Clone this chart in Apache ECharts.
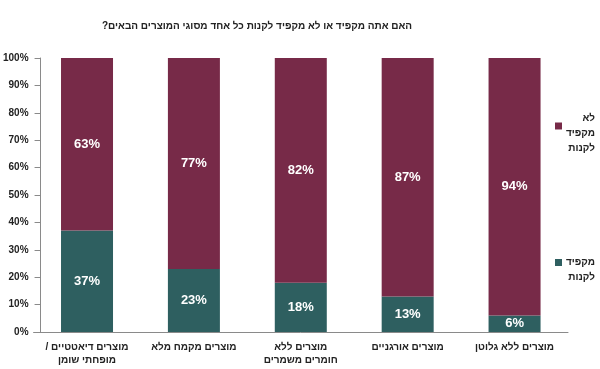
<!DOCTYPE html>
<html>
<head>
<meta charset="utf-8">
<script src="https://cdn.jsdelivr.net/npm/echarts@6/dist/echarts.min.js"></script>
<style>
html,body{margin:0;padding:0;background:#fff;}
#chart{width:600px;height:369px;}
</style>
</head>
<body>
<div id="chart" dir="rtl"></div>
<script>
var titleText = 'האם אתה מקפיד או לא מקפיד לקנות כל אחד מסוגי המוצרים הבאים?';
var categories = [
  'מוצרים דיאטטיים /\nמופחתי שומן',
  'מוצרים מקמח מלא',
  'מוצרים ללא\nחומרים משמרים',
  'מוצרים אורגניים',
  'מוצרים ללא גלוטן'
];
var seriesNames = ['מקפיד לקנות', 'לא מקפיד לקנות'];
var strict = [37, 23, 18, 13, 6];
var notStrict = [63, 77, 82, 87, 94];
var yTicks = [0, 10, 20, 30, 40, 50, 60, 70, 80, 90, 100];

var FONT = '"Liberation Sans", Arial, "DejaVu Sans", sans-serif';
var MAROON = '#772a48';
var TEAL = '#2e5f60';

var chart = echarts.init(document.getElementById('chart'), null, {renderer: 'canvas'});

function legendFmt(name) {
  var words = name.split(' ');
  var lines;
  if (words.length === 3) {
    lines = ['', '{r|' + words[0] + '}', '{r|' + words[1] + '}', '{r|' + words[2] + '}'];
  } else {
    lines = ['', '{r|' + words[0] + '}', '{r|' + words[1] + '}'];
  }
  return lines.join('\n');
}

var legendText = {
  fontFamily: FONT, fontSize: 10, fontWeight: 'bold', color: '#222', lineHeight: 15,
  rich: { r: { width: 28, align: 'right', fontFamily: FONT, fontSize: 10, fontWeight: 'bold', color: '#222', lineHeight: 15 } }
};

chart.setOption({
  animation: false,
  backgroundColor: '#fff',
  title: {
    text: titleText,
    left: 252,
    top: 16,
    textAlign: 'center',
    textStyle: { fontFamily: FONT, fontSize: 10, fontWeight: 'bold', color: '#222' }
  },
  legend: [
    {
      data: [seriesNames[1]], orient: 'vertical', right: 0, top: 91,
      itemWidth: 7, itemHeight: 7, icon: 'rect', selectedMode: false,
      formatter: legendFmt, textStyle: legendText
    },
    {
      data: [seriesNames[0]], orient: 'vertical', right: 0, top: 235,
      itemWidth: 7, itemHeight: 7, icon: 'rect', selectedMode: false,
      formatter: legendFmt, textStyle: legendText
    }
  ],
  grid: { left: 33, right: 32, top: 58, bottom: 37, containLabel: false },
  xAxis: {
    type: 'category',
    data: categories,
    axisLine: { lineStyle: { color: '#8a8a8a', width: 1 } },
    axisTick: { show: false },
    axisLabel: {
      interval: 0, margin: 9, fontFamily: FONT, fontSize: 10, fontWeight: 'bold',
      color: '#222', lineHeight: 13
    }
  },
  yAxis: {
    type: 'value',
    min: 0, max: 100, interval: 10,
    offset: -7,
    axisLine: { show: true, lineStyle: { color: '#8a8a8a', width: 1 } },
    axisTick: { show: true, length: 6, lineStyle: { color: '#8a8a8a' } },
    splitLine: { show: false },
    axisLabel: {
      margin: 12, fontFamily: FONT, fontSize: 10, fontWeight: 'bold', color: '#222',
      formatter: function (v) { return yTicks.indexOf(v) >= 0 ? v + '%' : ''; }
    }
  },
  series: [
    {
      name: seriesNames[0], type: 'bar', stack: 'total', data: strict, barWidth: 52,
      itemStyle: { color: TEAL },
      label: { show: true, position: 'inside', formatter: '{c}%', color: '#fff',
        fontFamily: FONT, fontSize: 13, fontWeight: 'bold' }
    },
    {
      name: seriesNames[1], type: 'bar', stack: 'total', data: notStrict, barWidth: 52,
      itemStyle: { color: MAROON },
      label: { show: true, position: 'inside', formatter: '{c}%', color: '#fff',
        fontFamily: FONT, fontSize: 13, fontWeight: 'bold' }
    }
  ]
});
</script>
</body>
</html>
